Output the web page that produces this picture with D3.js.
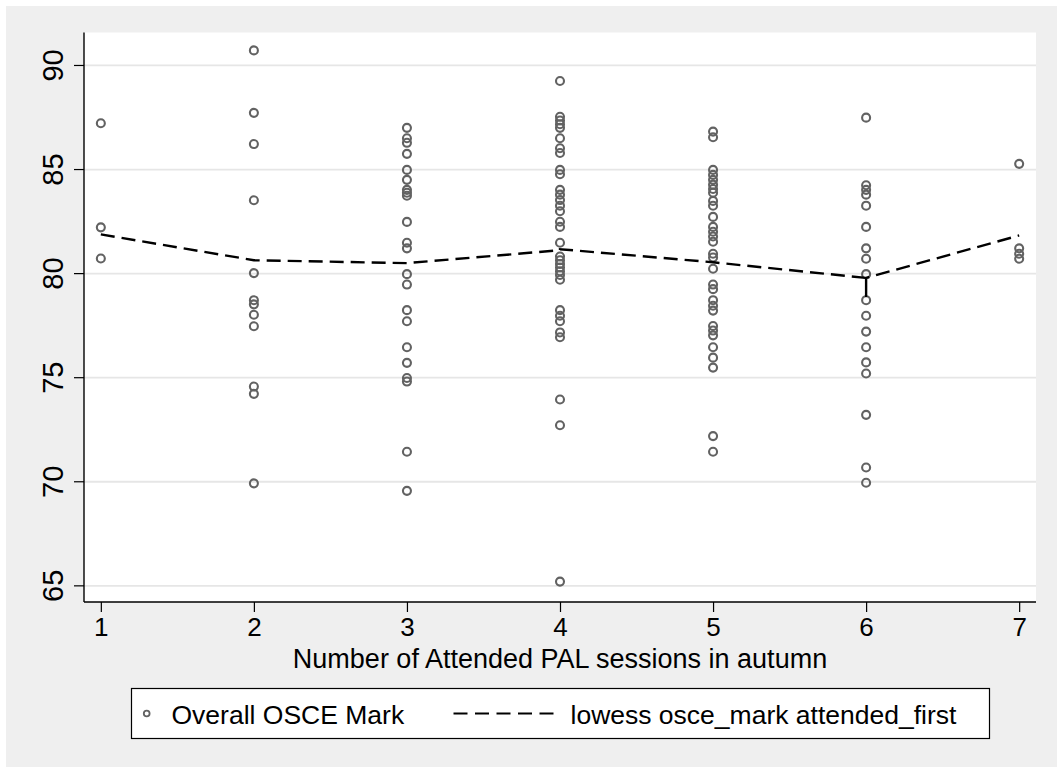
<!DOCTYPE html>
<html>
<head>
<meta charset="utf-8">
<script src="https://cdn.jsdelivr.net/npm/d3@7"></script>
<style>
  body { margin: 0; background: #fff; }
  text { font-family: "Liberation Sans", Arial, Helvetica, sans-serif; fill: #000; }
</style>
</head>
<body>
<div id="chart"></div>
<script>

// sessions attended (x) and OSCE marks, one list per column
let sessions = [1, 2, 3, 4, 5, 6, 7];
let marks1 = [87.2, 82.2, 80.7];
let marks2 = [90.7, 87.7, 86.2, 83.5, 80.0, 78.7, 78.5, 78.0, 77.45, 74.55, 74.2, 69.9];
let marks3 = [86.98, 86.48, 86.26, 85.73, 84.96, 84.48, 84.0, 83.86, 83.72, 82.46, 81.46, 81.19,
	79.95, 79.45, 78.22, 77.69, 76.44, 75.69, 74.96, 74.79, 71.42, 69.54];
let marks4 = [89.23, 87.51, 87.33, 87.15, 86.98, 86.48, 86.0, 85.77, 84.96, 84.75, 84.0, 83.77,
	83.51, 83.24, 82.97, 82.47, 82.22, 81.46, 80.8, 80.62, 80.44, 80.27, 80.09, 79.91, 79.68,
	78.22, 77.95, 77.69, 77.15, 76.92, 73.93, 72.69, 65.18];
let marks5 = [86.8, 86.53, 84.96, 84.72, 84.48, 84.25, 84.04, 83.86, 83.47, 83.24, 82.7, 82.22,
	81.99, 81.76, 81.51, 80.93, 80.75, 80.21, 79.45, 79.23, 78.7, 78.43, 78.2, 77.46, 77.24,
	77.01, 76.44, 75.94, 75.46, 72.17, 71.42];
let marks6 = [87.47, 84.22, 84.0, 83.77, 83.24, 82.22, 81.19, 80.69, 79.95, 78.7, 77.95, 77.19,
	76.44, 75.71, 75.18, 73.19, 70.66, 69.93];
let marks7 = [85.25, 81.19, 80.93, 80.69];

// lowess smooth as drawn (ties at x=6 give the short vertical piece)
let lowessX = [1, 2, 3, 4, 4, 5, 6, 6, 6, 7];
let lowessY = [81.86, 80.62, 80.48, 81.1, 81.15, 80.52, 79.77, 78.85, 79.77, 81.81];

let yTicks = [65, 70, 75, 80, 85, 90];
let xTitle = "Number of Attended PAL sessions in autumn";
let legendLabels = ["Overall OSCE Mark", "lowess osce_mark attended_first"];

let width = 1057;
let height = 767;

let svg = d3.select("#chart")
	.append("svg")
	.attr("width", width)
	.attr("height", height);

// outer graph region
svg.append("rect")
	.attr("x", 6).attr("y", 6)
	.attr("width", width - 6).attr("height", height - 6)
	.attr("fill", "#efefef");

let plot = {left: 84, right: 1036, top: 32.5, bottom: 602};

let x = d3.scaleLinear().domain([0.89, 7.11]).range([plot.left, plot.right]);
let y = d3.scaleLinear().domain([64.2, 91.56]).range([plot.bottom, plot.top]);

svg.append("rect")
	.attr("x", plot.left).attr("y", plot.top)
	.attr("width", plot.right - plot.left).attr("height", plot.bottom - plot.top)
	.attr("fill", "#fff");

// gridlines
svg.append("g")
	.attr("transform", `translate(${plot.left},0)`)
	.call(d3.axisLeft(y).tickValues(yTicks).tickSize(-(plot.right - plot.left)).tickFormat(""))
	.call(g => g.select(".domain").remove())
	.call(g => g.selectAll("line").attr("stroke", "#e6e6e6").attr("stroke-width", 1.8));

// y axis
let yAxis = svg.append("g")
	.attr("transform", `translate(${plot.left},0)`)
	.call(d3.axisLeft(y).tickValues(yTicks).tickSize(10).tickPadding(0).tickSizeOuter(0));
yAxis.select(".domain")
	.attr("d", `M0,${plot.top}V${plot.bottom}`)
	.attr("stroke", "#000").attr("stroke-width", 1.4);
yAxis.selectAll(".tick line").attr("stroke", "#000").attr("stroke-width", 1.2);
yAxis.selectAll(".tick text")
	.attr("x", null).attr("dy", null)
	.attr("text-anchor", "middle")
	.attr("transform", "translate(-21,0) rotate(-90)")
	.style("font-size", "29px")
	.style("font-family", "'Liberation Sans', Arial, sans-serif");

// x axis
let xAxis = svg.append("g")
	.attr("transform", `translate(0,${plot.bottom})`)
	.call(d3.axisBottom(x).tickValues(sessions).tickFormat(d3.format("d"))
		.tickSize(10).tickPadding(6).tickSizeOuter(0));
xAxis.select(".domain")
	.attr("d", `M${plot.left},0H${plot.right}`)
	.attr("stroke", "#000").attr("stroke-width", 1.4);
xAxis.selectAll(".tick line").attr("stroke", "#000").attr("stroke-width", 1.2);
xAxis.selectAll(".tick text")
	.style("font-size", "26px")
	.style("font-family", "'Liberation Sans', Arial, sans-serif");

svg.append("text")
	.attr("x", (plot.left + plot.right) / 2)
	.attr("y", 668)
	.attr("text-anchor", "middle")
	.style("font-size", "27px")
	.text(xTitle);

// scatter
let columns = [marks1, marks2, marks3, marks4, marks5, marks6, marks7];
let points = [];
columns.forEach(function(col, i) {
	col.forEach(function(v) { points.push({s: sessions[i], m: v}); });
});

svg.append("g")
	.selectAll("circle")
	.data(points)
	.enter().append("circle")
	.attr("cx", d => x(d.s))
	.attr("cy", d => y(d.m))
	.attr("r", 4)
	.attr("fill", "none")
	.attr("stroke", "#626262")
	.attr("stroke-width", 2.1);

// lowess line
let lowess = lowessX.map((v, i) => [v, lowessY[i]]);
let line = d3.line().x(d => x(d[0])).y(d => y(d[1]));

svg.append("path")
	.datum(lowess)
	.attr("d", line)
	.attr("fill", "none")
	.attr("stroke", "#000")
	.attr("stroke-width", 2.4)
	.attr("stroke-dasharray", "14,7");

// legend
let legend = svg.append("g");
legend.append("rect")
	.attr("x", 131.5).attr("y", 688.5)
	.attr("width", 858).attr("height", 50)
	.attr("fill", "#fff")
	.attr("stroke", "#000")
	.attr("stroke-width", 1.2);

legend.append("circle")
	.attr("cx", 146.7).attr("cy", 713.5)
	.attr("r", 2.9)
	.attr("fill", "none")
	.attr("stroke", "#626262")
	.attr("stroke-width", 1.8);

legend.append("text")
	.attr("x", 171.5).attr("y", 723.5)
	.style("font-size", "26.5px")
	.text(legendLabels[0]);

legend.append("line")
	.attr("x1", 453.5).attr("x2", 553.5)
	.attr("y1", 713.5).attr("y2", 713.5)
	.attr("stroke", "#000")
	.attr("stroke-width", 2)
	.attr("stroke-dasharray", "14,7.5");

legend.append("text")
	.attr("x", 570.5).attr("y", 723.5)
	.style("font-size", "26.5px")
	.text(legendLabels[1]);

</script>
</body>
</html>
